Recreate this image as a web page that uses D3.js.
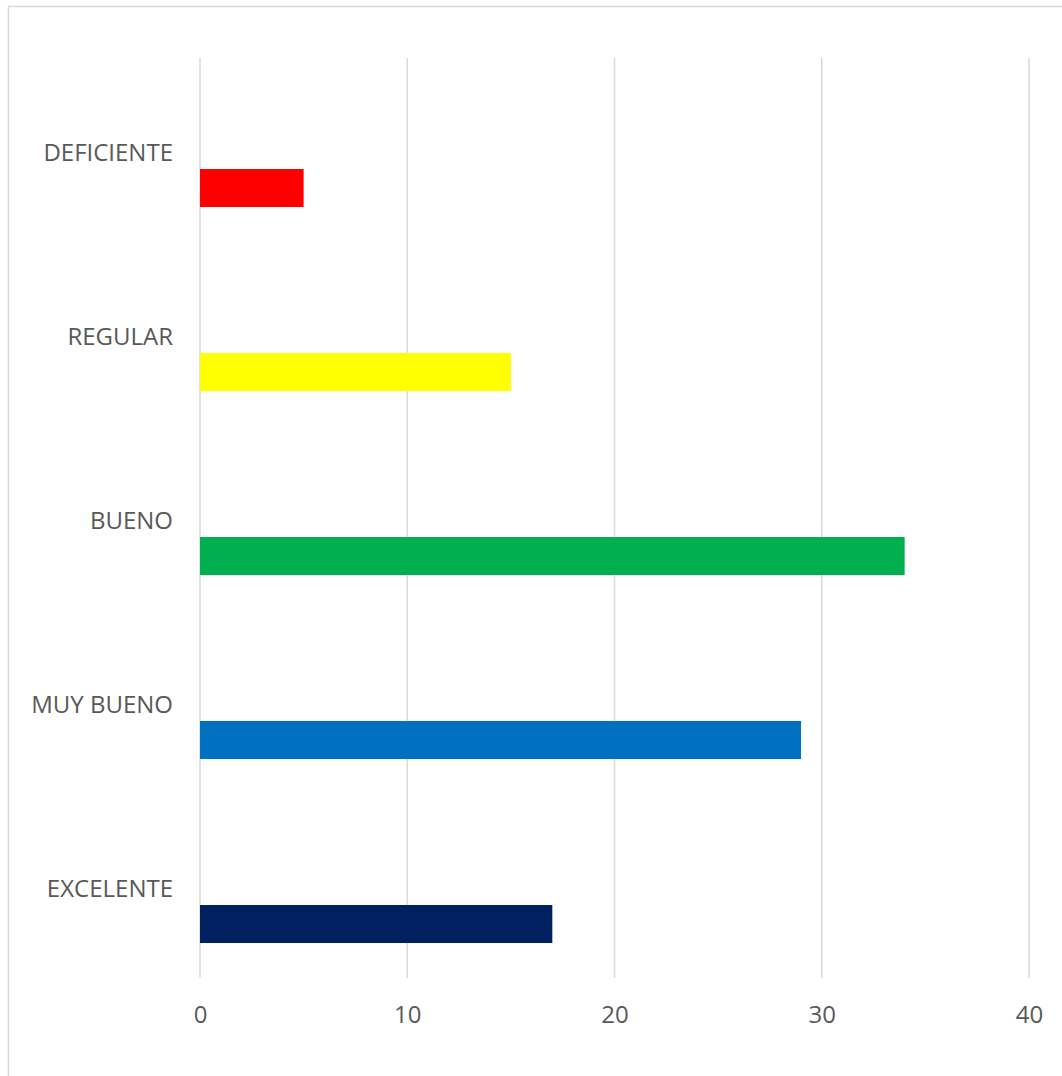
<!DOCTYPE html>
<html>
<head>
<meta charset="utf-8">
<script src="https://cdn.jsdelivr.net/npm/d3@7"></script>
<style>
  body { margin: 0; background: #fff; }
  svg { display: block; }
</style>
</head>
<body>
<div id="graph_field"></div>
<script>
// categories top to bottom, with their counts and bar colours
const categories = ["DEFICIENTE", "REGULAR", "BUENO", "MUY BUENO", "EXCELENTE"];
const values = [5, 15, 34, 29, 17];
const colors = ["#FF0000", "#FFFF00", "#00B050", "#0070C0", "#002060"];
const xTicks = [0, 10, 20, 30, 40];
// the original is a clustered chart with three slots per row; only the last one holds a bar
const slots = ["s1", "s2", "s3"];

const width = 1062, height = 1076;
const margin = {top: 58, right: 33, bottom: 98, left: 200};
const plotW = width - margin.left - margin.right;
const plotH = height - margin.top - margin.bottom;

const svg = d3.select("#graph_field")
  .append("svg")
  .attr("width", width)
  .attr("height", height);

// chart border
svg.append("rect")
  .attr("x", 8.5).attr("y", 6.5)
  .attr("width", 1080).attr("height", 1100)
  .attr("fill", "none")
  .attr("stroke", "#D9D9D9")
  .attr("stroke-width", 1.5);

const g = svg.append("g")
  .attr("transform", "translate(" + margin.left + "," + margin.top + ")");

const x = d3.scaleLinear().domain([0, 40]).range([0, plotW]);
const y = d3.scaleBand().domain(categories).range([0, plotH]).padding(0);
const inner = d3.scaleBand().domain(slots).range([0, y.bandwidth()])
  .paddingInner(0).paddingOuter(0.92);

// vertical gridlines
g.selectAll("line.grid")
  .data(xTicks)
  .join("line")
  .attr("class", "grid")
  .attr("x1", d => x(d)).attr("x2", d => x(d))
  .attr("y1", 0).attr("y2", plotH)
  .attr("stroke", "#D9D9D9")
  .attr("stroke-width", 1.5);

// bars
g.selectAll("rect.bar")
  .data(categories)
  .join("rect")
  .attr("class", "bar")
  .attr("x", x(0))
  .attr("y", d => y(d) + inner("s3"))
  .attr("width", (d, i) => x(values[i]) - x(0))
  .attr("height", inner.bandwidth())
  .attr("fill", (d, i) => colors[i]);

// x axis labels
const xAxis = g.append("g")
  .attr("transform", "translate(0," + plotH + ")")
  .call(d3.axisBottom(x).tickValues(xTicks).tickSize(0).tickPadding(28));
xAxis.select(".domain").remove();
xAxis.selectAll("text")
  .attr("fill", "#595959")
  .style("font-family", "'Open Sans', sans-serif")
  .style("font-size", "24px");

// category labels
const yAxis = g.append("g")
  .call(d3.axisLeft(y).tickSize(0).tickPadding(27));
yAxis.select(".domain").remove();
yAxis.selectAll("text")
  .attr("fill", "#595959")
  .attr("dy", "0.45em")
  .style("font-family", "'Open Sans', sans-serif")
  .style("font-size", "24px");
</script>
</body>
</html>
